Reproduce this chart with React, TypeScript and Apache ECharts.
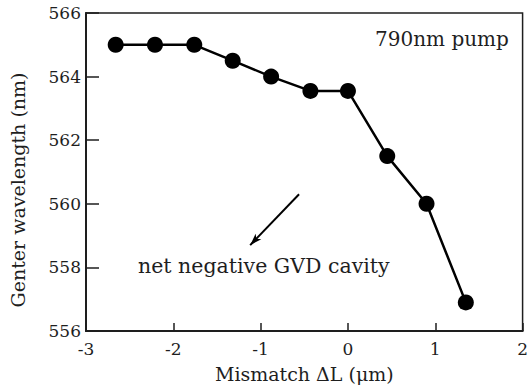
import React, { useEffect, useRef } from "react";
import * as echarts from "echarts";

const mismatch = [-2.66, -2.21, -1.76, -1.32, -0.88, -0.43, 0.0, 0.45, 0.9, 1.35];
const wavelength = [565.0, 565.0, 565.0, 564.5, 564.0, 563.55, 563.55, 561.5, 560.0, 556.9];
const arrowFrom = [-0.56, 560.3];
const arrowTo = [-1.12, 558.7];
const pumpLabel = "790nm pump";
const cavityLabel = "net negative GVD cavity";
const yTitle = "Genter wavelength (nm)";
const xTitle = "Mismatch ΔL (μm)";

export default function App() {
  const ref = useRef<HTMLDivElement>(null);
  useEffect(() => {
    const chart = echarts.init(ref.current!, null, { renderer: "svg" });
    const font = "'DejaVu Serif', 'Liberation Serif', serif";
    const ink = "#1e1e1e";
    chart.setOption({
      animation: false,
      backgroundColor: "#fff",
      grid: {
        left: 86,
        right: 4,
        top: 13,
        bottom: 55,
        show: true,
        borderColor: ink,
        borderWidth: 1.5,
      },
      xAxis: {
        type: "value",
        min: -3,
        max: 2,
        interval: 1,
        name: xTitle,
        nameLocation: "middle",
        nameGap: 33,
        nameTextStyle: { fontFamily: font, fontSize: 19, color: ink },
        axisLine: { onZero: false, lineStyle: { color: ink, width: 2 } },
        axisTick: { inside: true, length: 8, lineStyle: { color: ink, width: 1.5 } },
        axisLabel: { fontFamily: font, fontSize: 17, color: ink, margin: 9 },
        splitLine: { show: false },
      },
      yAxis: {
        type: "value",
        min: 556,
        max: 566,
        interval: 2,
        axisLine: { onZero: false, lineStyle: { color: ink, width: 2 } },
        axisTick: { inside: true, length: 13, lineStyle: { color: ink, width: 1.5 } },
        axisLabel: { fontFamily: font, fontSize: 17, color: ink, margin: 5 },
        splitLine: { show: false },
      },
      series: [
        {
          type: "line",
          data: mismatch.map((x, i) => [x, wavelength[i]]),
          symbol: "circle",
          symbolSize: 16,
          itemStyle: { color: "#000" },
          lineStyle: { color: "#000", width: 2.5 },
          markLine: {
            silent: true,
            symbol: ["none", "arrow"],
            symbolSize: [6, 12],
            label: { show: false },
            lineStyle: { color: "#000", width: 2, type: "solid" },
            data: [[{ coord: arrowFrom }, { coord: arrowTo }]],
          },
        },
      ],
      graphic: [
        {
          type: "text",
          x: 18,
          y: 190,
          rotation: Math.PI / 2,
          style: {
            text: yTitle,
            font: `19px ${font}`,
            fill: ink,
            align: "center",
            verticalAlign: "middle",
          },
        },
        {
          type: "text",
          x: 375,
          y: 39,
          style: { text: pumpLabel, font: `20px ${font}`, fill: ink, verticalAlign: "middle" },
        },
        {
          type: "text",
          x: 138,
          y: 266,
          style: { text: cavityLabel, font: `20.5px ${font}`, fill: ink, verticalAlign: "middle" },
        },
      ],
    });
    return () => chart.dispose();
  }, []);
  return <div ref={ref} style={{ width: 531, height: 388, position: "absolute", left: 0, top: 0 }} />;
}
